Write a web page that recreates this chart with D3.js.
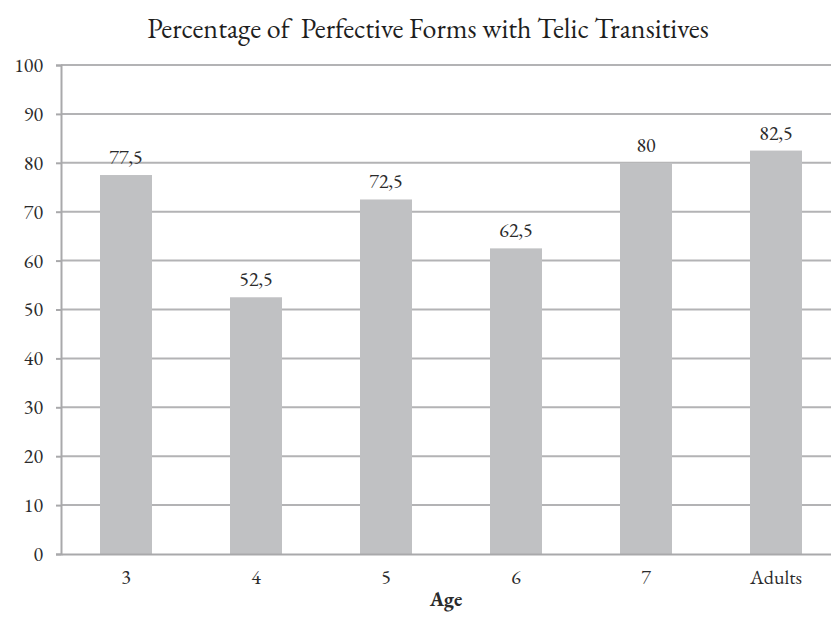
<!DOCTYPE html>
<html>
<head>
<meta charset="utf-8">
<script src="https://cdn.jsdelivr.net/npm/d3@7/dist/d3.min.js"></script>
<style>
  html, body { margin: 0; padding: 0; background: #fff; }
  svg { display: block; }
</style>
</head>
<body>
<script>
// Share of perfective forms used with telic transitive verbs, by age group
const categories = ["3", "4", "5", "6", "7", "Adults"];
const values = [77.5, 52.5, 72.5, 62.5, 80, 82.5];
const valueLabels = ["77,5", "52,5", "72,5", "62,5", "80", "82,5"];
const yTicks = [0, 10, 20, 30, 40, 50, 60, 70, 80, 90, 100];

const W = 831, H = 626;
const plotLeft = 61, plotTop = 65, plotBottom = 554, plotRight = 841;
const FONT = '"EB Garamond", "Liberation Serif", serif';
const TEXT = "#2b2b2b";

const svg = d3.select("body").append("svg")
  .attr("width", W).attr("height", H);

const x = d3.scaleBand().domain(categories).range([plotLeft, plotRight]).paddingInner(0.6).paddingOuter(0.3);
const y = d3.scaleLinear().domain([0, 100]).range([plotBottom, plotTop]);

// horizontal gridlines
svg.append("g").selectAll("line").data(yTicks.filter(d => d > 0)).join("line")
  .attr("x1", plotLeft).attr("x2", plotRight)
  .attr("y1", d => y(d)).attr("y2", d => y(d))
  .attr("stroke", "#b3b3b5").attr("stroke-width", 2);

// bars
svg.append("g").selectAll("rect").data(values).join("rect")
  .attr("x", (d, i) => x(categories[i]))
  .attr("width", x.bandwidth())
  .attr("y", d => y(d))
  .attr("height", d => y(0) - y(d))
  .attr("fill", "#c0c1c3");

// value labels
svg.append("g").selectAll("text").data(values).join("text")
  .attr("x", (d, i) => x(categories[i]) + x.bandwidth() / 2)
  .attr("y", d => y(d) - 11)
  .attr("text-anchor", "middle")
  .style("font-family", FONT).style("font-size", "20px").style("fill", TEXT)
  .text((d, i) => valueLabels[i]);

// y axis
const yAxis = svg.append("g").attr("transform", `translate(${plotLeft},0)`)
  .call(d3.axisLeft(y).tickValues(yTicks).tickSize(5).tickPadding(13));
yAxis.select(".domain").attr("stroke", "#a9a9ab").attr("stroke-width", 2);
yAxis.selectAll(".tick line").attr("stroke", "#a9a9ab").attr("stroke-width", 2);
yAxis.selectAll(".tick text")
  .style("font-family", FONT).style("font-size", "20px").style("fill", TEXT);

// x axis
const xAxis = svg.append("g").attr("transform", `translate(0,${plotBottom})`)
  .call(d3.axisBottom(x).tickSize(0).tickPadding(16));
xAxis.select(".domain").attr("stroke", "#a9a9ab").attr("stroke-width", 2);
xAxis.selectAll(".tick text")
  .style("font-family", FONT).style("font-size", "20px").style("fill", TEXT);

// axis title
svg.append("text")
  .attr("x", 446).attr("y", 606)
  .attr("text-anchor", "middle")
  .style("font-family", FONT).style("font-size", "20px").style("font-weight", "bold").style("fill", TEXT)
  .text("Age");

// chart title
svg.append("text")
  .attr("x", 428).attr("y", 38)
  .attr("text-anchor", "middle")
  .attr("xml:space", "preserve")
  .style("white-space", "pre")
  .style("font-family", FONT).style("font-size", "28px").style("fill", "#1e1e1e")
  .text("Percentage of  Perfective Forms with Telic Transitives");
</script>
</body>
</html>
